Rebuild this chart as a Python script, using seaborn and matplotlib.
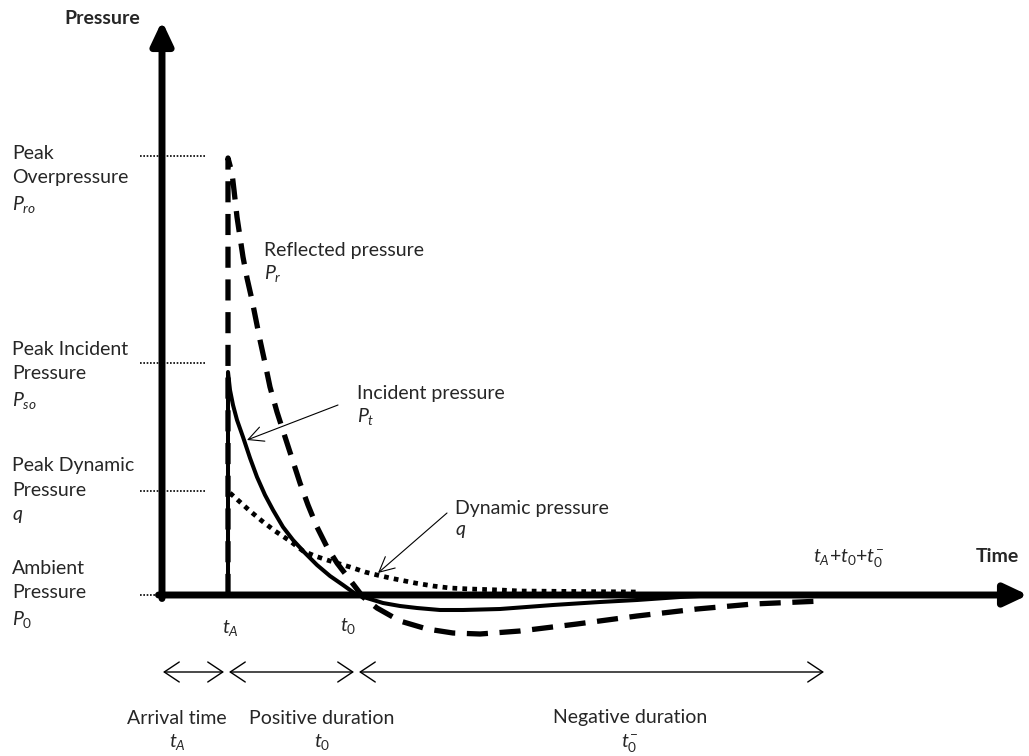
import matplotlib
matplotlib.use("Agg")
import matplotlib.pyplot as plt
import seaborn as sns
import pandas as pd

# ============================================
# Values
# time in arbitrary units (origin = vertical axis), pressure above ambient
# ============================================

t_incident = [6.6, 6.6, 6.8, 7.1, 7.5, 8.1, 8.8, 9.5, 10.3, 11.1, 12.1, 13.1,
              14.3, 15.5, 16.8, 18.1, 19.5, 20.8, 22.1, 23.8, 25.5, 27.8,
              30.1, 33.8, 39.1, 43.8, 47.5, 51.8, 55.8, 65.6]
p_incident = [0.0, 22.3, 20.5, 19.0, 17.5, 15.8, 13.7, 11.8, 10.0, 8.5, 6.8,
              5.5, 4.2, 3.0, 1.9, 1.0, 0.0, -0.4, -0.8, -1.1, -1.3, -1.5,
              -1.5, -1.4, -1.0, -0.7, -0.5, -0.2, 0.0, 0.1]

t_reflected = [6.6, 6.6, 7.0, 7.2, 7.5, 7.8, 8.1, 8.5, 9.0, 9.4, 9.8, 10.3,
               10.8, 11.5, 12.5, 13.8, 14.6, 15.5, 16.5, 17.5, 18.8, 20.1,
               21.5, 23.8, 26.5, 29.1, 31.8, 35.8, 41.5, 47.5, 53.5, 59.1,
               66.0]
p_reflected = [0.0, 43.7, 42.2, 40.5, 37.8, 35.8, 33.8, 31.7, 29.5, 27.5, 25.5,
               23.2, 20.8, 18.3, 15.2, 11.2, 9.0, 6.8, 4.8, 3.2, 1.5, -0.2,
               -1.3, -2.6, -3.4, -3.8, -3.9, -3.6, -2.9, -2.1, -1.4, -0.9,
               -0.6]

t_dynamic = [6.8, 7.8, 8.8, 10.0, 11.3, 12.8, 14.1, 15.3, 16.5, 17.8, 18.8,
             20.3, 21.5, 22.8, 23.8, 25.3, 27.1, 28.8, 30.8, 33.8, 35.8,
             41.8, 47.5]
p_dynamic = [10.2, 9.3, 8.4, 7.4, 6.4, 5.4, 4.4, 3.9, 3.5, 3.1, 2.8, 2.3, 2.0,
             1.7, 1.5, 1.2, 0.9, 0.7, 0.6, 0.5, 0.4, 0.35, 0.3]

t_A = 6.6
t_0 = 19.5
t_end = 65.6

level_values = [43.9, 23.2, 10.4, 0.0]
level_labels = ["Peak\nOverpressure\n$P_{ro}$",
                "Peak Incident\nPressure\n$P_{so}$",
                "Peak Dynamic\nPressure\n$q$",
                "Ambient\nPressure\n$P_0$"]

duration_labels = ["Arrival time\n$t_A$", "Positive duration\n$t_0$",
                   "Negative duration\n$t_0^{-}$"]

# ============================================
# Style
# ============================================

sns.set_style("white")
plt.rcParams['font.family'] = ['Lato', 'DejaVu Sans']
plt.rcParams['mathtext.fontset'] = 'custom'
plt.rcParams['mathtext.rm'] = 'Lato'
plt.rcParams['mathtext.it'] = 'Lato:italic'
plt.rcParams['mathtext.bf'] = 'Lato:bold'

FS = 14

fig = plt.figure(figsize=(10.29, 7.56), dpi=100)
ax = fig.add_axes([0, 0, 1, 1])
ax.set_xlim(-16.2, 86.7)
ax.set_ylim(-16.1, 59.5)
ax.axis('off')

# long table for seaborn
curves = pd.concat([
    pd.DataFrame({'t': t_incident, 'p': p_incident, 'curve': 'incident'}),
    pd.DataFrame({'t': t_reflected, 'p': p_reflected, 'curve': 'reflected'}),
    pd.DataFrame({'t': t_dynamic, 'p': p_dynamic, 'curve': 'dynamic'}),
], ignore_index=True)

sns.lineplot(
    data=curves, x='t', y='p',
    style='curve', size='curve',
    dashes={'incident': '', 'reflected': (4.0, 2.2), 'dynamic': (1, 1.1)},
    sizes={'incident': 2.9, 'reflected': 3.8, 'dynamic': 3.4},
    color='black', sort=False, estimator=None, legend=False, ax=ax,
)

# axes with arrowheads
axis_arrow = dict(arrowstyle='-|>,head_length=0.7,head_width=0.33',
                  color='black', lw=5, shrinkA=0, shrinkB=0,
                  mutation_scale=20)
ax.annotate('', xy=(0, 57.4), xytext=(0, -0.35), arrowprops=axis_arrow)
ax.annotate('', xy=(86.6, 0), xytext=(-0.35, 0), arrowprops=axis_arrow)
ax.text(-6.0, 57.7, 'Pressure', fontsize=FS, fontweight='bold',
        ha='center', va='center')
ax.text(83.5, 3.8, 'Time', fontsize=FS, fontweight='bold',
        ha='center', va='center')

# dotted guides for the peak levels, labels beside them
label_shift = [-2.4, -1.3, 0.0, 0.0]
for lvl, lab, dy in zip(level_values, level_labels, label_shift):
    x_end = 4.3 if lvl > 0 else 0
    ax.hlines(lvl, -2.2, x_end, colors='black', linestyles=(0, (1, 1)), lw=1.2)
    ax.text(-15.0, lvl + dy, lab, fontsize=FS, ha='left', va='center',
            linespacing=1.52)

# time marks under the axis
ax.text(t_A + 0.2, -3.3, '$t_A$', fontsize=FS, ha='center', va='center')
ax.text(t_0 - 0.9, -3.1, '$t_0$', fontsize=FS, ha='center', va='center')
ax.text(t_end + 3.1, 3.7, '$t_A$+$t_0$+$t_0^{-}$', fontsize=FS,
        ha='center', va='center')

# curve labels
ax.text(10.2, 33.2, 'Reflected pressure\n$P_r$', fontsize=FS, ha='left',
        va='center', linespacing=1.3)
ax.text(19.5, 18.9, 'Incident pressure\n$P_t$', fontsize=FS, ha='left',
        va='center', linespacing=1.3)
ax.text(29.3, 7.5, 'Dynamic pressure\n$q$', fontsize=FS, ha='left',
        va='center', linespacing=1.3)

thin_arrow = dict(arrowstyle='->,head_length=0.9,head_width=0.45',
                  color='black', lw=0.8, shrinkA=0, shrinkB=0,
                  mutation_scale=12)
ax.annotate('', xy=(8.5, 15.5), xytext=(17.6, 19.0), arrowprops=thin_arrow)
ax.annotate('', xy=(21.6, 2.2), xytext=(28.5, 8.2), arrowprops=thin_arrow)

# duration arrows
dur_arrow = dict(arrowstyle='<->,head_length=0.9,head_width=0.6',
                 color='black', lw=1.0, shrinkA=0, shrinkB=0,
                 mutation_scale=12)
spans = [(0.1, t_A - 0.4), (t_A + 0.1, t_0 - 0.3), (t_0 + 0.2, t_end + 0.6)]
label_x = [1.5, 16.0, 46.8]
for (a, b), lab, lx in zip(spans, duration_labels, label_x):
    ax.annotate('', xy=(b, -7.7), xytext=(a, -7.7), arrowprops=dur_arrow)
    ax.text(lx, -13.6, lab, fontsize=FS, ha='center', va='center',
            linespacing=1.4)

fig.savefig('out.png', dpi=100)
